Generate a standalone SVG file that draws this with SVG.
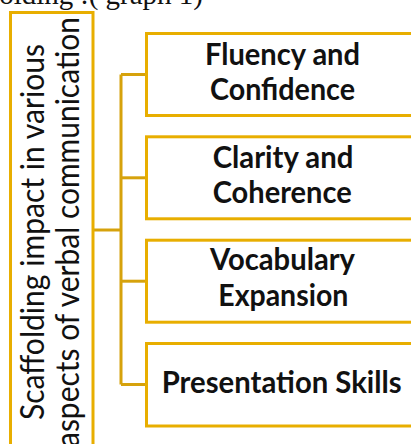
<svg xmlns="http://www.w3.org/2000/svg" width="411" height="444" viewBox="0 0 411 444">
  <style>
    .box { fill: #ffffff; stroke: #E8AE00; stroke-width: 3; }
    .conn { fill: none; stroke: #D6A20C; stroke-width: 3; }
    .lbl { font-family: Lato, "Open Sans", "Liberation Sans", sans-serif; font-weight: bold; font-size: 31px; fill: #111111; text-anchor: middle; }
    .root { font-family: Lato, "Open Sans", "Liberation Sans", sans-serif; font-size: 32px; fill: #111111; text-anchor: middle; }
    .cap { font-family: "Liberation Serif", "Times New Roman", serif; font-size: 29px; fill: #111111; text-anchor: end; }
  </style>
  <rect width="411" height="444" fill="#ffffff"/>
  <text class="cap" x="203" y="4">scaffolding :( graph 1)</text>

  <g id="connectors">
    <path class="conn" d="M93 230 H121"/>
    <path class="conn" d="M121 74.5 V384.5"/>
    <path class="conn" d="M121 74.5 H146.5"/>
    <path class="conn" d="M121 177.8 H146.5"/>
    <path class="conn" d="M121 281.2 H146.5"/>
    <path class="conn" d="M121 384.5 H146.5"/>
  </g>

  <g id="root">
    <rect class="box" x="10.5" y="12.5" width="82.5" height="445"/>
    <text class="root" transform="translate(43.5 232) rotate(-90)" x="0" y="0" textLength="376" lengthAdjust="spacingAndGlyphs">Scaffolding impact in various</text>
    <text class="root" transform="translate(79 232) rotate(-90)" x="0" y="0" textLength="430" lengthAdjust="spacingAndGlyphs">aspects of verbal communication</text>
  </g>

  <g id="fluency">
    <rect class="box" x="146.5" y="33.5" width="270" height="82"/>
    <text class="lbl" x="282.5" y="65" textLength="155" lengthAdjust="spacingAndGlyphs">Fluency and</text>
    <text class="lbl" x="282.5" y="100" textLength="145" lengthAdjust="spacingAndGlyphs">Confidence</text>
  </g>

  <g id="clarity">
    <rect class="box" x="146.5" y="136.8" width="270" height="82"/>
    <text class="lbl" x="283" y="168" textLength="140.6" lengthAdjust="spacingAndGlyphs">Clarity and</text>
    <text class="lbl" x="282.2" y="203" textLength="139" lengthAdjust="spacingAndGlyphs">Coherence</text>
  </g>

  <g id="vocabulary">
    <rect class="box" x="146.5" y="240.2" width="270" height="82"/>
    <text class="lbl" x="282.5" y="270" textLength="145" lengthAdjust="spacingAndGlyphs">Vocabulary</text>
    <text class="lbl" x="283.3" y="306" textLength="130" lengthAdjust="spacingAndGlyphs">Expansion</text>
  </g>

  <g id="presentation">
    <rect class="box" x="146.5" y="343.5" width="270" height="82.5"/>
    <text class="lbl" x="281.7" y="393" textLength="240" lengthAdjust="spacingAndGlyphs">Presentation Skills</text>
  </g>
</svg>
